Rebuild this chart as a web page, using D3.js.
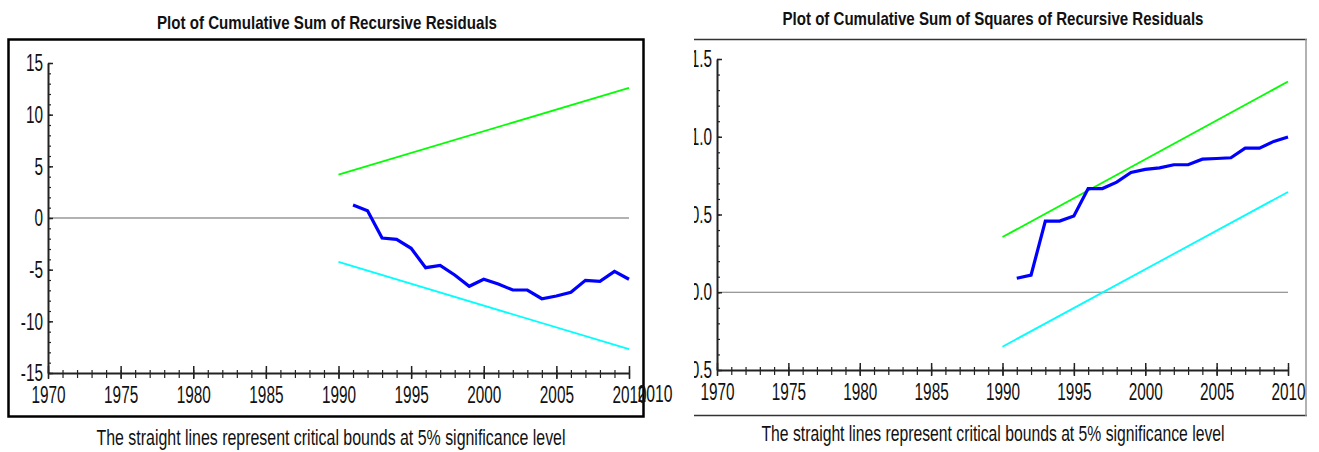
<!DOCTYPE html>
<html><head><meta charset="utf-8">
<script src="https://cdn.jsdelivr.net/npm/d3@7"></script>
<style>
html,body{margin:0;padding:0;background:#fff;}
svg{display:block;font-family:"Liberation Sans",Arial,sans-serif;}
</style></head>
<body>
<svg id="c" width="1319" height="452"></svg>
<script>
// ---------- data ----------
const years = [1991,1992,1993,1994,1995,1996,1997,1998,1999,2000,2001,2002,2003,2004,2005,2006,2007,2008,2009,2010];
const cusum = [1.26,0.71,-1.94,-2.06,-2.93,-4.81,-4.58,-5.52,-6.61,-5.93,-6.39,-6.97,-6.97,-7.81,-7.55,-7.19,-6.03,-6.13,-5.16,-5.93];
const boundYears = [1990, 2010];
const cusumUpper = [4.2, 12.6];
const cusumLower = [-4.25, -12.7];
const cusumsq = [0.09,0.11,0.458,0.458,0.49,0.667,0.667,0.708,0.77,0.79,0.80,0.82,0.82,0.856,0.86,0.865,0.927,0.927,0.97,0.998];
const sqUpper = [0.355, 1.355];
const sqLower = [-0.35, 0.645];
const majorYears = [1970,1975,1980,1985,1990,1995,2000,2005,2010];
const allYears = d3.range(1970, 2011);
const cusumTicks = [-15,-10,-5,0,5,10,15];
const cusumMinor = d3.range(-15, 16);
const sqTicks = [-0.5,0.0,0.5,1.0,1.5];
const sqTickLabels = ["-0.5","0.0","0.5","1.0","1.5"];
const sqMinor = d3.range(-5, 16).map(d => d/10);
const titleLeft = "Plot of Cumulative Sum of Recursive Residuals";
const titleRight = "Plot of Cumulative Sum of Squares of Recursive Residuals";
const caption = "The straight lines represent critical bounds at 5% significance level";

const svg = d3.select("#c");
const COND = 0.64;
const LBL = 24;
function condense(sel){
  sel.each(function(){
    const w = this.getComputedTextLength();
    if (w > 0) d3.select(this).attr("textLength", w*COND).attr("lengthAdjust","spacingAndGlyphs");
  });
}

function panel(g, cfg){
  const x = d3.scaleLinear([1970,2010], cfg.xr);
  const y = d3.scaleLinear(cfg.yd, cfg.yr);
  g.append("line").attr("x1", x(1970)).attr("x2", x(2010))
    .attr("y1", y(0)).attr("y2", y(0))
    .attr("stroke", cfg.zeroColor).attr("stroke-width", cfg.zeroW);
  const xMinor = g.append("g").attr("transform", `translate(0,${cfg.yr[0]})`)
    .call(d3.axisBottom(x).tickValues(allYears).tickFormat("").tickSize(5));
  xMinor.select(".domain").remove();
  xMinor.selectAll(".tick line").attr("y1", -3).attr("stroke","#222").attr("stroke-width",1.2);
  const xMajor = g.append("g").attr("transform", `translate(0,${cfg.yr[0]})`)
    .call(d3.axisBottom(x).tickValues(majorYears).tickFormat(d3.format("d")).tickSize(6).tickPadding(7).tickSizeOuter(0));
  xMajor.select(".domain").attr("stroke","#222").attr("stroke-width",2);
  xMajor.selectAll(".tick line").attr("y1", -7).attr("stroke","#222").attr("stroke-width",1.5);
  xMajor.selectAll(".tick text").attr("font-size", LBL).attr("fill","#111")
    .attr("font-family","Liberation Sans, Arial, sans-serif").attr("dy","0.71em").call(condense);
  const yMinor = g.append("g").attr("transform", `translate(${cfg.xr[0]},0)`)
    .call(d3.axisLeft(y).tickValues(cfg.yMinor).tickFormat("").tickSize(3));
  yMinor.select(".domain").remove();
  yMinor.selectAll(".tick line").attr("x2", 3).attr("stroke","#222").attr("stroke-width",1.2);
  const yMajor = g.append("g").attr("transform", `translate(${cfg.xr[0]},0)`)
    .call(d3.axisLeft(y).tickValues(cfg.yTicks).tickFormat((d,i)=>cfg.yLabels[i]).tickSize(4).tickPadding(1).tickSizeOuter(0));
  yMajor.select(".domain").attr("stroke","#222").attr("stroke-width",2);
  yMajor.selectAll(".tick line").attr("x2", 5).attr("stroke","#222").attr("stroke-width",1.5);
  yMajor.selectAll(".tick text").attr("font-size", LBL).attr("fill","#111")
    .attr("font-family","Liberation Sans, Arial, sans-serif").call(condense);
  const line = d3.line().x(d=>x(d[0])).y(d=>y(d[1]));
  g.append("path").datum(boundYears.map((yr,i)=>[yr,cfg.upper[i]])).attr("d", line)
    .attr("fill","none").attr("stroke","#00ff00").attr("stroke-width",1.8);
  g.append("path").datum(boundYears.map((yr,i)=>[yr,cfg.lower[i]])).attr("d", line)
    .attr("fill","none").attr("stroke","#00ffff").attr("stroke-width",1.8);
  g.append("path").datum(years.map((yr,i)=>[yr,cfg.vals[i]])).attr("d", line)
    .attr("fill","none").attr("stroke","#0000ff").attr("stroke-width",3.2).attr("stroke-linejoin","miter");
}

function plainText(x, y, s, size, w, bold){
  svg.append("text").attr("x",x).attr("y",y).attr("text-anchor","middle")
    .attr("font-size",size).attr("font-weight", bold ? "bold" : "normal").attr("fill","#111")
    .attr("textLength",w).attr("lengthAdjust","spacingAndGlyphs").text(s);
}

// ---------- left panel ----------
const gl = svg.append("g");
gl.append("rect").attr("x",8.5).attr("y",39.5).attr("width",635).attr("height",377)
  .attr("fill","none").attr("stroke","#000").attr("stroke-width",2.5);
panel(gl, {xr:[48,629], yd:[-15,15], yr:[373,63], zeroColor:"#999", zeroW:1.6,
  yTicks:cusumTicks, yLabels:cusumTicks.map(String), yMinor:cusumMinor,
  upper:cusumUpper, lower:cusumLower, vals:cusum});
plainText(327, 29, titleLeft, 19, 340, true);
plainText(331, 445, caption, 22, 469, false);
// stray overlapping label from the pasted figure
plainText(655, 402, "2010", LBL, 35, false);

// ---------- right panel ----------
svg.append("defs").append("clipPath").attr("id","clipR")
  .append("rect").attr("x",694).attr("y",30).attr("width",625).attr("height",400);
const gr = svg.append("g").attr("clip-path","url(#clipR)");
gr.append("rect").attr("x",694).attr("y",30).attr("width",625).attr("height",400).attr("fill","#fff");
gr.append("line").attr("x1",694).attr("x2",1307).attr("y1",39.5).attr("y2",39.5).attr("stroke","#333").attr("stroke-width",1.5);
gr.append("line").attr("x1",694).attr("x2",1307).attr("y1",415.5).attr("y2",415.5).attr("stroke","#333").attr("stroke-width",1.5);
gr.append("line").attr("x1",1306).attr("x2",1306).attr("y1",39).attr("y2",416).attr("stroke","#999").attr("stroke-width",1.5);
panel(gr, {xr:[717,1288], yd:[-0.5,1.5], yr:[370,59], zeroColor:"#777", zeroW:1.2,
  yTicks:sqTicks, yLabels:sqTickLabels, yMinor:sqMinor,
  upper:sqUpper, lower:sqLower, vals:cusumsq});
plainText(993, 25, titleRight, 19, 421, true);
plainText(993, 441, caption, 22, 463, false);
</script>
</body></html>
